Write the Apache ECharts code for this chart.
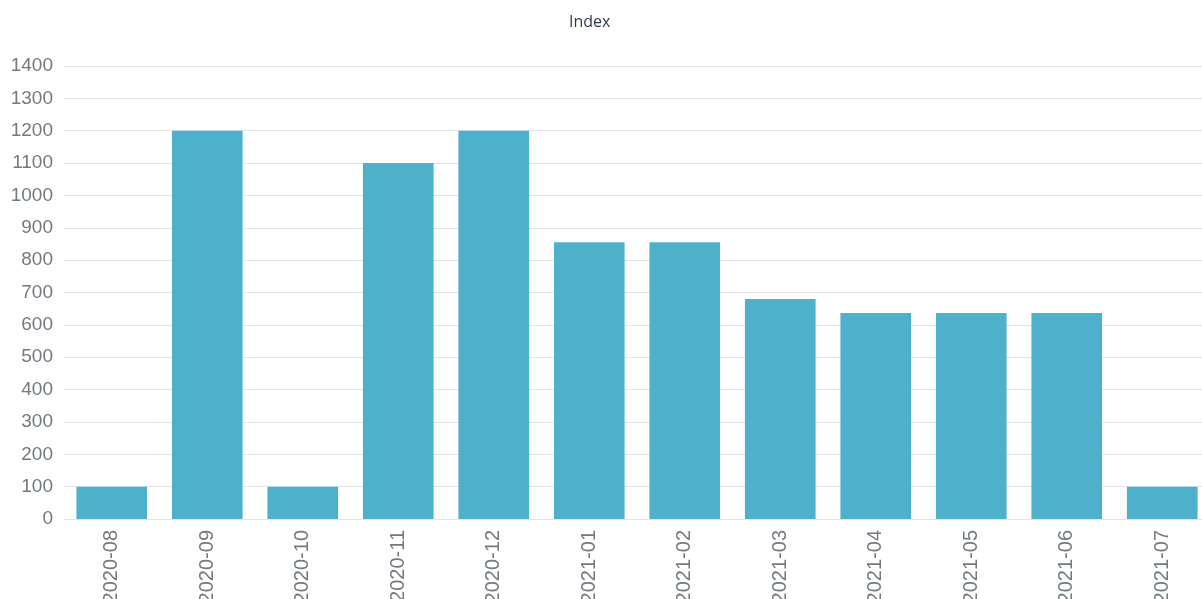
<!DOCTYPE html>
<html><head><meta charset="utf-8">
<script src="https://cdn.jsdelivr.net/npm/echarts@6/dist/echarts.min.js"></script>
<style>html,body{margin:0;padding:0;background:#fff}#c{width:1202px;height:599px}</style>
</head><body><div id="c"></div>
<script>
const categories = ['2020-08','2020-09','2020-10','2020-11','2020-12','2021-01','2021-02','2021-03','2021-04','2021-05','2021-06','2021-07'];
const values = [100,1200,100,1100,1200,855,855,680,637,637,637,100];
const chart = echarts.init(document.getElementById('c'));
chart.setOption({
  animation:false,
  title:{text:'Index',left:564,top:9,textStyle:{fontFamily:'Open Sans',fontSize:16,fontWeight:'normal',color:'#2c3e50'}},
  grid:{left:64,right:-8,top:66,bottom:80,containLabel:false,outerBoundsMode:'none'},
  xAxis:{type:'category',data:categories,axisLine:{show:false},axisTick:{show:false},
    axisLabel:{rotate:90,margin:11,fontFamily:'Liberation Sans',fontSize:20,color:'#737a80'}},
  yAxis:{type:'value',min:0,max:1400,interval:100,axisLine:{show:false},axisTick:{show:false},
    splitLine:{lineStyle:{color:'#e2e4e6'}},
    axisLabel:{margin:11,fontFamily:'Liberation Sans',fontSize:19,color:'#737a80',formatter:v=>String(v)}},
  series:[{type:'bar',data:values,barWidth:'74%',itemStyle:{color:'#4eb0cb'}}]
});
</script></body></html>
